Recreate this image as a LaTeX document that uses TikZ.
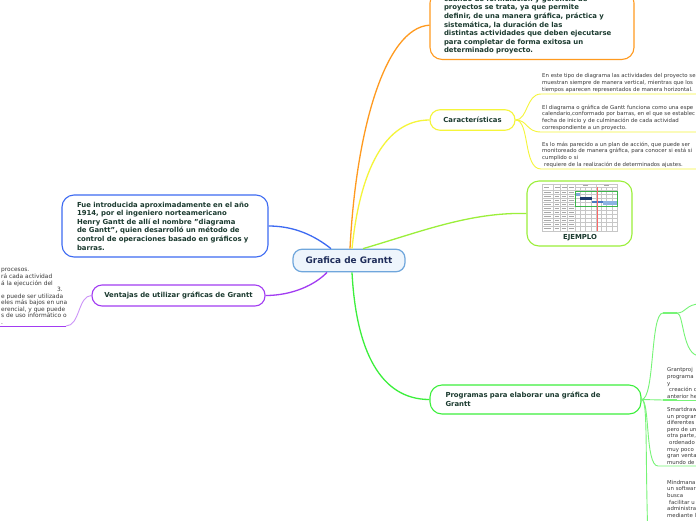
\documentclass[tikz,border=0pt]{standalone}
\usepackage{fontspec}
\setmainfont{DejaVu Sans}
\definecolor{corange}{HTML}{FF9A1F}
\definecolor{cyellow}{HTML}{F5F53A}
\definecolor{clime}{HTML}{9BEF3A}
\definecolor{cblue}{HTML}{3D6AF2}
\definecolor{cpurple}{HTML}{A23CF2}
\definecolor{cgreen}{HTML}{3CEF3C}
\definecolor{ctext}{HTML}{1B3A2F}
\definecolor{croot}{HTML}{1F2D5A}
\definecolor{cnote}{HTML}{3A3A3A}
\definecolor{rootfill}{HTML}{EEF5FC}
\definecolor{rootdraw}{HTML}{6FA6DC}
\definecolor{barlight}{HTML}{7FA7D9}
\definecolor{bardark}{HTML}{1F3A6E}
\definecolor{barmid}{HTML}{4A78C0}
\definecolor{barpale}{HTML}{8DB3E2}
\definecolor{barframe}{HTML}{3CB44B}
\tikzset{
  every picture/.style={x=1pt, y=-1pt},
  rootbox/.style={draw=rootdraw, fill=rootfill, line width=1.2pt, rounded corners=9pt, minimum width=112pt, minimum height=22.5pt, font=\bfseries\fontsize{8.9}{10}\selectfont, text=croot},
  topic/.style={draw=#1, fill=white, line width=1.1pt, rounded corners=12pt, font=\bfseries\fontsize{6.9}{8.6}\selectfont, text=ctext, align=left, inner ysep=5pt},
  pill/.style={topic=#1, rounded corners=10pt, align=center},
  mainline/.style={draw=#1, line width=1.3pt},
  subline/.style={draw=#1, line width=0.9pt},
  note/.style={font=\fontsize{5.4}{6.6}\selectfont, text=cnote, align=left, inner xsep=1pt, inner ysep=1.5pt},
}

\begin{document}
\begin{tikzpicture}[
  gridline/.style={draw=black!22, line width=0.25pt},
  ghost/.style={draw=black!35, line width=0.6pt},
]
  \useasboundingbox (0,0) rectangle (696,520);
  \fill[white] (0,0) rectangle (696,520);
  \clip (0,0) rectangle (696,520);

  % central topic and main topics
  \node[rootbox] (root) at (349,260.5) {Grafica de Grantt};

  \node[topic=corange, text width=176pt, inner xsep=14pt, anchor=south] (use) at (532,60) {cuando de formulación y gerencia de\\ proyectos se trata, ya que permite\\ definir, de una manera gráfica, práctica y\\ sistemática, la duración de las\\ distintas actividades que deben ejecutarse\\ para completar de forma exitosa un\\ determinado proyecto.};

  \node[topic=cblue, text width=176pt, inner xsep=15pt, minimum height=62pt] (hist) at (165,226) {Fue introducida aproximadamente en el año\\ 1914, por el ingeniero norteamericano\\ Henry Gantt de allí el nombre "diagrama\\ de Gantt", quien desarrolló un método de\\ control de operaciones basado en gráficos y\\ barras.};

  \node[pill=cyellow, minimum width=85pt, minimum height=20.5pt] (feat) at (472.5,120) {Características};

  \node[topic=clime, minimum width=105pt, minimum height=65pt] (ex) at (579.5,213.5) {};
  \node[font=\bfseries\fontsize{6.9}{8}\selectfont, text=ctext] (exlabel) at (580,238) {EJEMPLO};

  \node[pill=cpurple, minimum width=173pt, minimum height=21pt] (pros) at (178.5,295.5) {Ventajas de utilizar gráficas de Grantt};

  \node[topic=cgreen, text width=180pt, inner xsep=15.5pt, minimum height=29pt] (soft) at (535.5,399.5) {Programas para elaborar una gráfica de\\ Grantt};

  % main branches
  \draw[mainline=corange] ([xshift=1pt]root.north) .. controls (356,130) and (385,28) .. (use.west);
  \draw[mainline=cyellow] ([xshift=3pt]root.north) .. controls (360,170) and (385,120) .. (feat.west);
  \draw[mainline=clime] ([xshift=14pt]root.north) .. controls (420,232) and (470,212) .. (ex.west);
  \draw[mainline=cblue] ([xshift=-18pt]root.north) .. controls (315,236) and (295,226) .. (hist.east);
  \draw[mainline=cpurple] ([xshift=-22pt]root.south) .. controls (315,285) and (292,295.5) .. (pros.east);
  \draw[mainline=cgreen] ([xshift=3pt]root.south) .. controls (356,350) and (380,399.5) .. (soft.west);

  % example picture
  \draw[gridline] (542,184) rectangle (617,231);
  \foreach \x in {553,560,567,575} \draw[gridline] (\x,184) -- (\x,231);
  \foreach \i in {1,...,7} \draw[gridline] ({575+5.25*\i},187) -- ({575+5.25*\i},231);
  \draw[gridline] (575,187) -- (617,187);
  \draw[gridline] (596,184) -- (596,187);
  \foreach \y in {190,194,...,226} \draw[gridline] (542,\y) -- (617,\y);
  \draw[ghost] (583,185.5) -- (588,185.5);
  \draw[ghost] (604,185.5) -- (609,185.5);
  \foreach \x in {544,555,562,569} \draw[ghost] (\x,187.5) -- ({\x+5},187.5);
  \foreach \r in {0,...,9} {
    \draw[ghost] (543.5,{192+4*\r}) -- (551,{192+4*\r});
    \draw[ghost] (554.5,{192+4*\r}) -- (558.5,{192+4*\r});
    \draw[ghost] (561.5,{192+4*\r}) -- (565.5,{192+4*\r});
    \draw[ghost] (568.5,{192+4*\r}) -- (573.5,{192+4*\r});
  }
  \fill[barlight] (575,193) rectangle (580,196);
  \fill[bardark] (580,197) rectangle (591.5,199.5);
  \fill[barmid] (591.5,200.5) rectangle (603,203);
  \fill[barpale] (603,200.5) rectangle (617,205);
  \draw[barframe, line width=0.6pt] (575,191) rectangle (617,206);
  \draw[red!60, line width=0.5pt] (597,187) -- (597,231);

  % Caracteristicas
  \coordinate (f1s) at (541,94);  \coordinate (f1) at (700,94);
  \coordinate (f2s) at (541,132); \coordinate (f2) at (700,132);
  \coordinate (f3s) at (541,169); \coordinate (f3) at (700,169);
  \draw[subline=cyellow] (feat.east) .. controls (528,120) and (526,94) .. (f1s) -- (f1);
  \draw[subline=cyellow] (feat.east) .. controls (528,120) and (526,132) .. (f2s) -- (f2);
  \draw[subline=cyellow] (feat.east) .. controls (530,120) and (523,169) .. (f3s) -- (f3);
  \node[note, anchor=south west] (f1t) at (f1s) {En este tipo de diagrama las actividades del proyecto se\\ muestran siempre de manera vertical, mientras que los\\ tiempos aparecen representados de manera horizontal.};
  \node[note, anchor=south west] (f2t) at (f2s) {El diagrama o gráfica de Gantt funciona como una espe\\ calendario,conformado por barras, en el que se establec\\ fecha de inicio y de culminación de cada actividad\\ correspondiente a un proyecto.};
  \node[note, anchor=south west] (f3t) at (f3s) {Es lo más parecido a un plan de acción, que puede ser\\ monitoreado de manera gráfica, para conocer si está si\\ cumplido o si\\ \hspace*{2pt}requiere de la realización de determinados ajustes.};

  % Ventajas
  \coordinate (p1) at (66,326); \coordinate (p0) at (-5,326);
  \draw[subline=cpurple!55] (pros.west) .. controls (78,295.5) and (80,326) .. (p1);
  \draw[subline=cpurple] (p1) -- (p0);
  \node[note, font=\fontsize{5.9}{6.55}\selectfont, anchor=south west] (prost) at (0,326) {procesos.\\ rá cada actividad\\ á la ejecución del\\ \hspace*{56pt}3.\\ e puede ser utilizada\\ eles más bajos en una\\ erencial, y que puede\\ s de uso informático o\\ .};

  % Programas
  \coordinate (s0) at (663,313); \coordinate (s1) at (677,313);
  \coordinate (s2) at (700,304); \coordinate (s3) at (700,356);
  \coordinate (g0) at (663,400); \coordinate (g1) at (700,400);
  \coordinate (d0) at (658,466); \coordinate (d1) at (700,466);
  \coordinate (m0) at (648,540);
  \draw[subline=cgreen!70] (soft.east) .. controls (655,399.5) and (650,313) .. (s0);
  \draw[cgreen!70, line width=2.2pt] (s0) -- (s1);
  \draw[subline=cgreen!70] (s1) .. controls (686,313) and (686,304) .. (s2);
  \draw[subline=cgreen!70] (s1) .. controls (684,313) and (682,356) .. (s3);
  \draw[subline=cgreen!70] (soft.east) -- (g0);
  \draw[cgreen!70, line width=2.2pt] (g0) -- (677,400);
  \draw[subline=cgreen!70] (677,400) -- (g1);
  \draw[subline=cgreen!70] (soft.east) .. controls (650,399.5) and (645,466) .. (d0) -- (d1);
  \draw[subline=cgreen!70] (soft.east) .. controls (648,399.5) and (645,450) .. (m0);
  \node[note, anchor=south west] (gpt) at (666,400) {Grantproj\\ programa\\ y\\ \hspace*{2pt}creación c\\ anterior he};
  \node[note, anchor=south west] (sdt) at (666,466) {Smartdraw\\ un program\\ diferentes\\ pero de un\\ otra parte,\\ \hspace*{2pt}ordenado\\ muy poco\\ gran venta\\ mundo de};
  \node[note, anchor=north west] (mmt) at (666,478.5) {Mindmana\\ un softwar\\ busca\\ \hspace*{2pt}facilitar u\\ administra\\ mediante l};
\end{tikzpicture}
\end{document}
